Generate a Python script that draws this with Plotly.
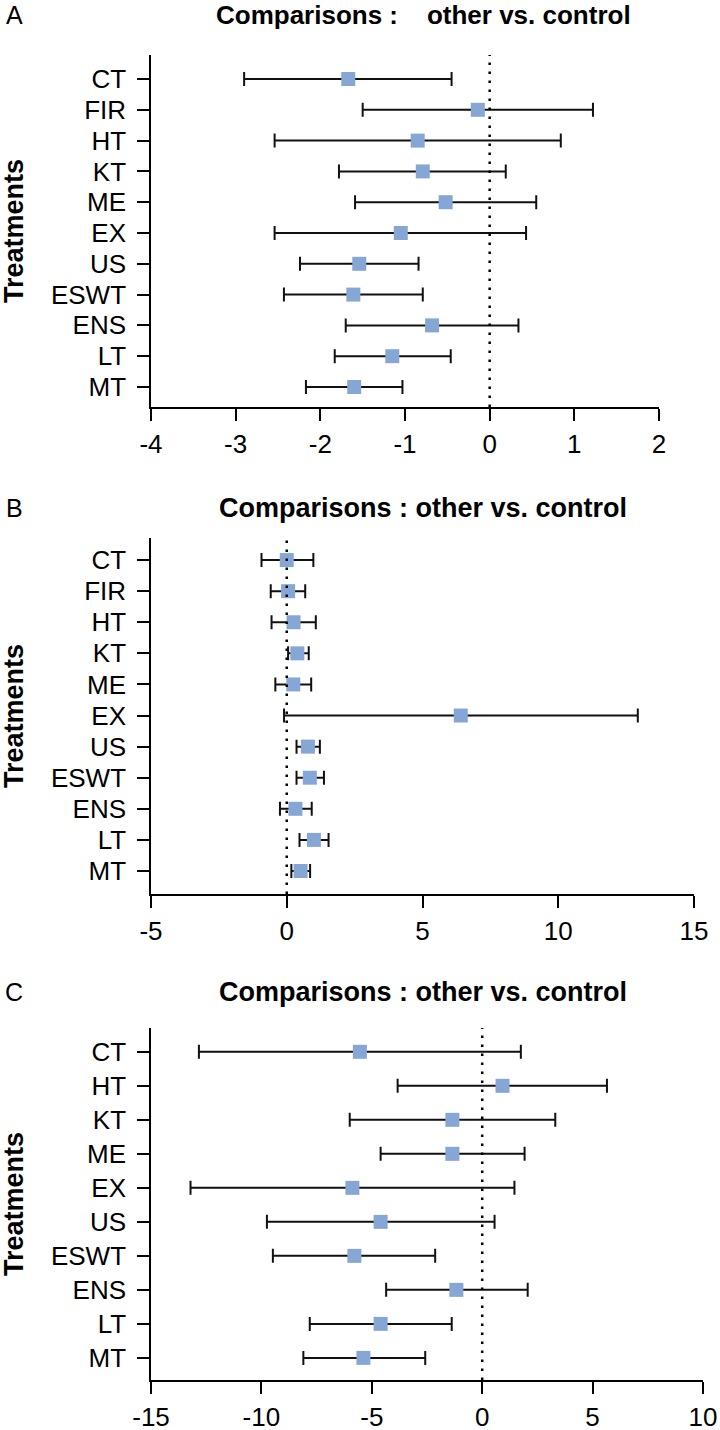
import plotly.graph_objects as go

# Data
cats_a = ["CT", "FIR", "HT", "KT", "ME", "EX", "US", "ESWT", "ENS", "LT", "MT"]
est_a = [-1.67, -0.14, -0.85, -0.79, -0.52, -1.05, -1.54, -1.61, -0.68, -1.15, -1.60]
lo_a = [-2.90, -1.50, -2.54, -1.78, -1.59, -2.54, -2.24, -2.43, -1.70, -1.83, -2.17]
hi_a = [-0.45, 1.22, 0.84, 0.19, 0.55, 0.43, -0.84, -0.79, 0.34, -0.46, -1.03]

cats_b = ["CT", "FIR", "HT", "KT", "ME", "EX", "US", "ESWT", "ENS", "LT", "MT"]
est_b = [0.0, 0.05, 0.25, 0.39, 0.24, 6.41, 0.78, 0.85, 0.32, 1.00, 0.51]
lo_b = [-0.93, -0.59, -0.56, 0.05, -0.42, -0.10, 0.36, 0.36, -0.25, 0.47, 0.17]
hi_b = [0.98, 0.68, 1.07, 0.81, 0.90, 12.93, 1.22, 1.37, 0.92, 1.54, 0.86]

cats_c = ["CT", "HT", "KT", "ME", "EX", "US", "ESWT", "ENS", "LT", "MT"]
est_c = [-5.54, 0.92, -1.35, -1.35, -5.88, -4.60, -5.79, -1.17, -4.60, -5.38]
lo_c = [-12.83, -3.83, -6.00, -4.60, -13.21, -9.75, -9.48, -4.35, -7.81, -8.10]
hi_c = [1.75, 5.65, 3.31, 1.92, 1.46, 0.56, -2.13, 2.06, -1.38, -2.58]

ticks_a = [-4, -3, -2, -1, 0, 1, 2]
ticks_b = [-5, 0, 5, 10, 15]
ticks_c = [-15, -10, -5, 0, 5, 10]

W, H = 720, 1430
FONT = "Liberation Sans, Arial, sans-serif"
MARKER = "#86a7d6"

# pixel layout of each panel:
# (letter, cats, est, lo, hi, ticks, x-left, x-right, y-top, y-bottom, pad top, pad bottom, title y, title, title size)
panels = [
    ("A", cats_a, est_a, lo_a, hi_a, ticks_a, 151, 659, 55, 407, 0.78, 0.65, 15,
     "Comparisons\u00a0:\u00a0\u00a0\u00a0\u00a0other vs. control", 26),
    ("B", cats_b, est_b, lo_b, hi_b, ticks_b, 151, 694, 538, 894, 0.71, 0.74, 508,
     "Comparisons\u00a0: other vs. control", 27),
    ("C", cats_c, est_c, lo_c, hi_c, ticks_c, 151, 703, 1028, 1380, 0.70, 0.65, 992,
     "Comparisons\u00a0: other vs. control", 27),
]

fig = go.Figure()
annotations = []
shapes = []

for i, (letter, cats, est, lo, hi, ticks, xl, xr, yt, yb, pt, pb, ty, title, tsize) in enumerate(panels):
    sfx = "" if i == 0 else str(i + 1)
    plus = [h - e for h, e in zip(hi, est)]
    minus = [e - l for e, l in zip(est, lo)]
    fig.add_trace(go.Scatter(
        x=est, y=cats, mode="markers",
        marker=dict(symbol="square", size=14, color=MARKER),
        error_x=dict(type="data", symmetric=False, array=plus, arrayminus=minus,
                     color="#111111", thickness=2, width=7),
        xaxis="x" + sfx, yaxis="y" + sfx, showlegend=False,
    ))
    fig.update_layout(**{
        "xaxis" + sfx: dict(
            domain=[xl / W, xr / W], range=[ticks[0], ticks[-1]], anchor="y" + sfx,
            tickmode="array", tickvals=ticks, ticktext=[str(t) for t in ticks],
            automargin=False,
            showline=True, linecolor="black", linewidth=1.5,
            ticks="outside", ticklen=12, tickwidth=1.5, tickcolor="black",
            showgrid=False, zeroline=False, ticklabelstandoff=1,
            tickfont=dict(family=FONT, size=26, color="black"),
        ),
        "yaxis" + sfx: dict(
            domain=[1 - yb / H, 1 - yt / H], anchor="x" + sfx, type="category",
            categoryorder="array", categoryarray=cats, automargin=False,
            tickmode="array", tickvals=cats, ticktext=cats,
            range=[len(cats) - 1 + pb, -pt],
            showline=True, linecolor="black", linewidth=1.5,
            ticks="outside", ticklen=12, tickwidth=1.5, tickcolor="black",
            showgrid=False, zeroline=False, ticklabelstandoff=6,
            tickfont=dict(family=FONT, size=26, color="black"),
        ),
    })
    shapes.append(dict(type="line", xref="x" + sfx, yref="y" + sfx + " domain",
                       x0=0, x1=0, y0=0, y1=1, layer="above",
                       line=dict(color="black", width=2.5, dash="2.5px,6.5px")))
    annotations.append(dict(text=letter, x=14 / W, y=1 - ty / H,
                            xref="paper", yref="paper", showarrow=False,
                            xanchor="center", yanchor="middle",
                            font=dict(family=FONT, size=25, color="black")))
    annotations.append(dict(text="<b>" + title + "</b>", x=423 / W, y=1 - ty / H,
                            xref="paper", yref="paper", showarrow=False,
                            xanchor="center", yanchor="middle",
                            font=dict(family=FONT, size=tsize, color="black")))
    annotations.append(dict(text="<b>Treatments</b>", x=14 / W, y=1 - (yt + yb) / 2 / H,
                            xref="paper", yref="paper", showarrow=False, textangle=-90,
                            xanchor="center", yanchor="middle",
                            font=dict(family=FONT, size=27, color="black")))

fig.update_layout(
    template="none",
    width=W, height=H, margin=dict(l=0, r=0, t=0, b=0),
    paper_bgcolor="white", plot_bgcolor="white",
    annotations=annotations, shapes=shapes,
)

fig.write_html("out.html", config={"displayModeBar": False},
               post_script="document.body.style.margin='0';")
